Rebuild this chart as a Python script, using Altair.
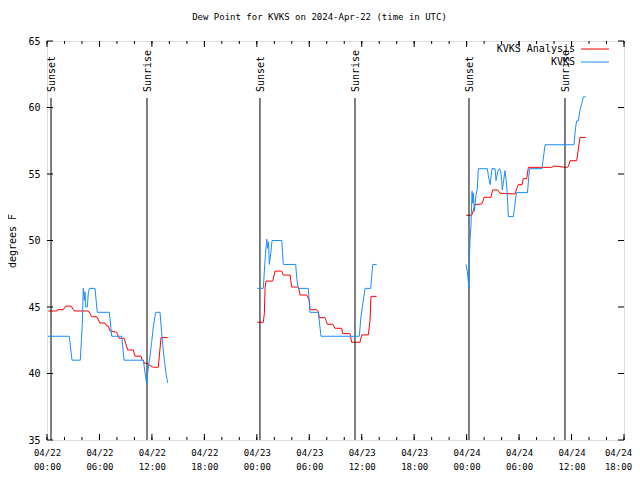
import altair as alt
import pandas as pd

# hours since 2024-04-22 00:00 UTC, dew point in deg F
obs1_h = [0.11, 2.55, 2.86, 3.81, 4.04, 4.15, 4.27, 4.35, 4.43, 4.61, 4.72, 4.84, 5.49, 5.75, 7.13, 7.40, 8.55, 8.81, 11.02, 11.40, 11.52, 11.78, 11.98, 12.16, 12.43, 12.93, 13.12, 13.42, 13.61, 13.81]
obs1_v = [42.8, 42.8, 41.0, 41.0, 43.8, 46.4, 45.5, 46.15, 45.0, 45.0, 46.0, 46.4, 46.4, 44.6, 44.6, 42.8, 42.8, 41.0, 41.0, 39.2, 40.1, 41.3, 42.4, 43.5, 44.6, 44.6, 43.0, 41.0, 40.0, 39.3]

obs2_h = [24.06, 24.74, 24.94, 25.13, 25.25, 25.34, 25.43, 25.59, 25.74, 26.85, 27.03, 28.45, 28.56, 28.75, 29.89, 30.08, 31.03, 31.34, 35.72, 35.92, 36.38, 37.03, 37.26, 37.71]
obs2_v = [46.4, 46.4, 48.5, 50.1, 49.4, 49.9, 48.2, 49.0, 50.0, 50.0, 48.2, 48.2, 47.2, 46.4, 46.4, 44.6, 44.6, 42.8, 42.8, 44.3, 46.4, 46.4, 48.2, 48.2]

obs3_h = [47.93, 48.08, 48.27, 48.31, 48.39, 48.50, 48.62, 48.70, 48.77, 48.88, 49.07, 49.22, 49.34, 50.37, 50.48, 50.59, 50.68, 50.90, 51.25, 51.36, 51.56, 51.74, 51.90, 52.01, 52.08, 52.39, 52.59, 52.70, 52.77, 53.34, 53.53, 53.65, 53.73, 54.96, 55.19, 56.62, 56.97, 60.28, 60.46, 60.59, 60.78, 60.97, 61.16, 61.35, 61.62]
obs3_v = [48.2, 47.65, 46.4, 48.5, 50.0, 51.2, 53.7, 52.8, 53.55, 52.2, 53.4, 53.9, 55.4, 55.4, 54.9, 54.5, 54.2, 55.4, 55.4, 54.5, 55.2, 55.4, 55.2, 54.5, 53.8, 55.25, 54.05, 52.8, 51.8, 51.8, 52.7, 53.4, 53.6, 53.6, 55.4, 55.4, 57.2, 57.2, 58.5, 59.0, 59.0, 59.8, 60.3, 60.8, 60.8]

ana1_h = [0.15, 1.11, 1.2, 1.86, 2.14, 2.75, 3.12, 4.72, 4.92, 5.11, 5.69, 6.06, 6.63, 6.83, 7.01, 7.21, 7.97, 8.09, 8.24, 8.81, 9.00, 9.23, 9.87, 10.07, 10.75, 10.90, 11.02, 11.13, 11.52, 11.78, 12.16, 12.73, 12.85, 13.04, 13.81]
ana1_v = [44.7, 44.7, 44.8, 44.8, 45.07, 45.07, 44.7, 44.7, 44.5, 44.27, 44.27, 43.8, 43.8, 43.57, 43.57, 43.2, 43.1, 42.9, 42.65, 42.65, 42.27, 41.77, 41.77, 41.3, 41.3, 41.0, 41.0, 40.77, 40.77, 40.6, 40.47, 40.47, 41.3, 42.7, 42.7]

ana2_h = [24.06, 24.74, 24.86, 24.94, 25.05, 25.82, 26.08, 26.85, 27.03, 27.80, 27.99, 28.75, 28.86, 28.94, 29.71, 30.00, 30.08, 30.16, 30.85, 31.03, 31.15, 31.80, 31.91, 32.06, 32.68, 32.94, 33.71, 33.82, 34.66, 34.85, 35.80, 36.00, 36.75, 36.95, 37.06, 37.71]
ana2_v = [43.85, 43.85, 44.5, 46.4, 46.95, 46.95, 47.7, 47.7, 47.4, 47.4, 46.5, 46.5, 46.2, 45.9, 45.9, 45.5, 44.9, 44.8, 44.8, 44.65, 44.2, 44.2, 44.0, 43.7, 43.7, 43.4, 43.4, 43.0, 43.0, 42.35, 42.35, 42.9, 42.9, 44.0, 45.8, 45.8]

ana3_h = [47.93, 48.58, 48.84, 48.96, 49.73, 49.91, 49.99, 50.79, 50.96, 51.56, 51.82, 53.53, 53.73, 53.91, 54.34, 54.48, 54.87, 55.06, 57.73, 57.92, 59.45, 59.63, 59.83, 60.59, 60.78, 60.97, 61.62]
ana3_v = [51.9, 51.9, 52.4, 52.7, 52.75, 53.05, 53.25, 53.25, 53.8, 53.8, 53.55, 53.5, 53.9, 54.2, 54.2, 54.65, 54.65, 55.5, 55.5, 55.6, 55.5, 55.55, 56.0, 56.0, 56.9, 57.75, 57.75]

sun_h = [0.46, 11.44, 24.36, 35.23, 48.27, 59.25]
sun_label = ["Sunset", "Sunrise", "Sunset", "Sunrise", "Sunset", "Sunrise"]

series_names = ["KVKS Analysis", "KVKS"]
series_colors = ["#ff0000", "#1a8cff"]

major_x = list(range(0, 67, 6))
minor_x = list(range(0, 67, 2))
major_y = list(range(35, 66, 5))

W, H = 577, 399
FONT = "DejaVu Sans Mono"


def seg_frame(hs, vs, seg):
    return pd.DataFrame({"h": hs, "v": vs, "seg": seg})


ana = pd.concat([seg_frame(ana1_h, ana1_v, 1), seg_frame(ana2_h, ana2_v, 2), seg_frame(ana3_h, ana3_v, 3)])
obs = pd.concat([seg_frame(obs1_h, obs1_v, 1), seg_frame(obs2_h, obs2_v, 2), seg_frame(obs3_h, obs3_v, 3)])
sun = pd.DataFrame({"h": sun_h, "label": sun_label})

xscale = alt.Scale(domain=[0, 66], nice=False, zero=False)
yscale = alt.Scale(domain=[35, 65], nice=False, zero=False)

label_expr = ("['04/' + (22 + floor(datum.value / 24)), "
              "(datum.value % 24 < 10 ? '0' : '') + (datum.value % 24) + ':00']")

xaxis = alt.Axis(values=major_x, labelExpr=label_expr, title=None, grid=False, ticks=False,
                 domain=False, labelFont=FONT, labelFontSize=9, labelColor="black",
                 labelPadding=8, labelLineHeight=14, labelAngle=0, labelFlush=False,
                 labelOverlap=False, labelBound=False,
                 labelOffset=alt.condition("datum.value >= 66", alt.value(-6), alt.value(0)))
yaxis = alt.Axis(values=major_y, title="degrees F", grid=False, ticks=False, domain=False,
                 labelFont=FONT, labelFontSize=10, labelColor="black", labelPadding=7,
                 labelFlush=False, labelOverlap=False,
                 titleFont=FONT, titleFontSize=10, titleFontWeight="normal", titleColor="black",
                 titlePadding=10)

red_line = alt.Chart(ana).mark_line(color=series_colors[0], strokeWidth=1).encode(
    x=alt.X("h:Q", scale=xscale, axis=xaxis),
    y=alt.Y("v:Q", scale=yscale, axis=yaxis),
    detail="seg:N",
    order="h:Q",
)
blue_line = alt.Chart(obs).mark_line(color=series_colors[1], strokeWidth=1).encode(
    x=alt.X("h:Q", scale=xscale, axis=xaxis),
    y=alt.Y("v:Q", scale=yscale, axis=yaxis),
    detail="seg:N",
    order="h:Q",
)

sun_rules = alt.Chart(sun).mark_rule(color="black", strokeWidth=1).encode(
    x=alt.X("h:Q", scale=xscale, axis=xaxis), y=alt.value(57), y2=alt.value(H)
)
sun_text = alt.Chart(sun).mark_text(angle=270, align="left", baseline="middle", font=FONT,
                                     fontSize=10, color="black", dy=1).encode(
    x=alt.X("h:Q", scale=xscale, axis=xaxis), y=alt.value(51), text="label:N"
)

tick_major_df = pd.DataFrame({"h": major_x})
tick_minor_df = pd.DataFrame({"h": minor_x})
ytick_df = pd.DataFrame({"v": major_y})


def xticks(df, y0, y1):
    return alt.Chart(df).mark_rule(color="black").encode(
        x=alt.X("h:Q", scale=xscale, axis=xaxis), y=alt.value(y0), y2=alt.value(y1))


def yticks(x0, x1):
    return alt.Chart(ytick_df).mark_rule(color="black").encode(
        y=alt.Y("v:Q", scale=yscale, axis=yaxis), x=alt.value(x0), x2=alt.value(x1))


leg_layers = []
for i, (name, col) in enumerate(zip(series_names, series_colors)):
    ypos = 8 + 13 * i
    leg_layers.append(alt.Chart(pd.DataFrame({"name": [name]})).mark_text(
        align="right", baseline="middle", font=FONT, fontSize=10, color="black").encode(
        text="name:N", x=alt.value(528), y=alt.value(ypos)))
    leg_layers.append(alt.Chart(pd.DataFrame({"name": [name]})).mark_rule(
        color=col, strokeWidth=1).encode(
        x=alt.value(534), x2=alt.value(562), y=alt.value(ypos)))

chart = alt.layer(
    red_line,
    xticks(tick_major_df, H, H - 6), xticks(tick_major_df, 0, 6),
    xticks(tick_minor_df, H, H - 3), xticks(tick_minor_df, 0, 3),
    yticks(0, 6), yticks(W, W - 6),
    sun_rules, sun_text, blue_line, *leg_layers,
).properties(
    width=W, height=H,
    title=alt.TitleParams("Dew Point for KVKS on 2024-Apr-22 (time in UTC)", font=FONT, fontSize=9,
                          fontWeight="normal", color="black", anchor="middle", offset=14, dx=-16),
    autosize=alt.AutoSizeParams(type="none"),
    padding={"left": 39, "top": 33, "right": 8, "bottom": 32},
).configure_view(stroke="black", strokeWidth=1).configure_axis(grid=False).configure(background="white")

chart.save("out.html", embed_options={"renderer": "svg", "actions": False})
